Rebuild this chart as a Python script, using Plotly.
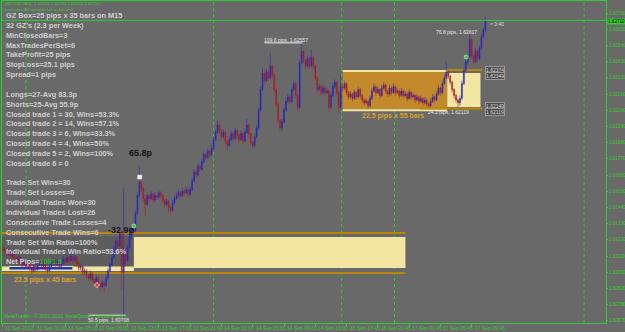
import plotly.graph_objects as go

# ---------------- data (GBPUSD, M15) ----------------
first_open = 1.6117
closes = [
 1.6116, 1.6114, 1.6112, 1.6114, 1.6111, 1.6113, 1.6110, 1.6108, 1.6110, 1.6107,
 1.6105, 1.6107, 1.6104, 1.6106, 1.6103, 1.6101, 1.6104, 1.6102, 1.6105, 1.6107,
 1.6104, 1.6106, 1.6103, 1.6101, 1.6104, 1.6106, 1.6108, 1.6105, 1.6107, 1.6104,
 1.6106, 1.6109, 1.6107, 1.6110, 1.6108, 1.6111, 1.6108, 1.6110, 1.6106, 1.6103,
 1.6104, 1.6100, 1.6101, 1.6098, 1.6096, 1.6099, 1.6095, 1.6093, 1.6096, 1.6092,
 1.6090, 1.6093, 1.6091, 1.6096, 1.6101, 1.6105, 1.6110, 1.6116, 1.6121, 1.6118,
 1.6126, 1.6100, 1.6114, 1.6108, 1.6117, 1.6124, 1.6130, 1.6128, 1.6140, 1.6152,
 1.6161, 1.6157, 1.6150, 1.6146, 1.6152, 1.6150, 1.6153, 1.6149, 1.6152, 1.6151,
 1.6154, 1.6152, 1.6149, 1.6146, 1.6148, 1.6144, 1.6142, 1.6147, 1.6150, 1.6152,
 1.6154, 1.6152, 1.6155, 1.6154, 1.6156, 1.6153, 1.6156, 1.6162, 1.6168, 1.6166,
 1.6172, 1.6170, 1.6175, 1.6180, 1.6178, 1.6182, 1.6180, 1.6184, 1.6190, 1.6195,
 1.6200, 1.6196, 1.6192, 1.6195, 1.6189, 1.6186, 1.6190, 1.6194, 1.6191, 1.6196,
 1.6193, 1.6190, 1.6194, 1.6189, 1.6195, 1.6200, 1.6194, 1.6188, 1.6186, 1.6192,
 1.6198, 1.6210, 1.6224, 1.6235, 1.6230, 1.6236, 1.6232, 1.6240, 1.6234, 1.6224,
 1.6214, 1.6203, 1.6198, 1.6202, 1.6210, 1.6216, 1.6219, 1.6216, 1.6224, 1.6228,
 1.6220, 1.6212, 1.6242, 1.6250, 1.6244, 1.6240, 1.6245, 1.6240, 1.6246, 1.6240,
 1.6232, 1.6224, 1.6226, 1.6222, 1.6225, 1.6222, 1.6223, 1.6212, 1.6220, 1.6226,
 1.6229, 1.6222, 1.6212, 1.6226, 1.6225, 1.6228, 1.6222, 1.6219, 1.6221, 1.6218,
 1.6222, 1.6219, 1.6224, 1.6220, 1.6217, 1.6215, 1.6216, 1.6213, 1.6218, 1.6223,
 1.6226, 1.6222, 1.6224, 1.6220, 1.6225, 1.6227, 1.6223, 1.6221, 1.6225, 1.6222,
 1.6226, 1.6222, 1.6223, 1.6220, 1.6223, 1.6220, 1.6221, 1.6218, 1.6222, 1.6219,
 1.6220, 1.6217, 1.6219, 1.6216, 1.6218, 1.6215, 1.6217, 1.6214, 1.6213, 1.6216,
 1.6219, 1.6217, 1.6221, 1.6225, 1.6222, 1.6228, 1.6232, 1.6236, 1.6233, 1.6229,
 1.6224, 1.6220, 1.6217, 1.6215, 1.6218, 1.6228, 1.6237, 1.6243, 1.6246, 1.6258,
 1.6247, 1.6243, 1.6250, 1.6245, 1.6252, 1.6260, 1.62645, 1.62710]
highs = [
 1.6119, 1.6117, 1.6115, 1.6116, 1.6115, 1.6115, 1.6114, 1.6111, 1.6112, 1.6111,
 1.6108, 1.6109, 1.6108, 1.6108, 1.6107, 1.6104, 1.6106, 1.6105, 1.6107, 1.6109,
 1.6108, 1.6108, 1.6107, 1.6104, 1.6106, 1.6108, 1.6110, 1.6109, 1.6109, 1.6108,
 1.6108, 1.6111, 1.6110, 1.6112, 1.6111, 1.6113, 1.6112, 1.6112, 1.6111, 1.6107,
 1.6106, 1.6105, 1.6103, 1.6102, 1.6099, 1.6101, 1.6100, 1.6096, 1.6098, 1.6097,
 1.6093, 1.6095, 1.6094, 1.6098, 1.6103, 1.6107, 1.6112, 1.6118, 1.6123, 1.6122,
 1.6128, 1.6128, 1.6157, 1.6116, 1.6119, 1.6126, 1.6132, 1.6133, 1.6142, 1.6154,
 1.6172, 1.6164, 1.6158, 1.6151, 1.6154, 1.6153, 1.6155, 1.6154, 1.6154, 1.6153,
 1.6156, 1.6155, 1.6153, 1.6150, 1.6150, 1.6149, 1.6145, 1.6149, 1.6152, 1.6154,
 1.6156, 1.6155, 1.6157, 1.6156, 1.6158, 1.6157, 1.6158, 1.6164, 1.6170, 1.6170,
 1.6174, 1.6174, 1.6177, 1.6182, 1.6181, 1.6184, 1.6183, 1.6186, 1.6192, 1.6197,
 1.6203, 1.6201, 1.6197, 1.6197, 1.6196, 1.6190, 1.6192, 1.6196, 1.6195, 1.6198,
 1.6197, 1.6194, 1.6196, 1.6195, 1.6197, 1.6204, 1.6201, 1.6195, 1.6189, 1.6194,
 1.6200, 1.6212, 1.6226, 1.6239, 1.6237, 1.6238, 1.6237, 1.6249, 1.6241, 1.6235,
 1.6225, 1.6215, 1.6204, 1.6204, 1.6212, 1.6218, 1.6221, 1.6220, 1.6226, 1.6230,
 1.6229, 1.6221, 1.6244, 1.62557, 1.6251, 1.6245, 1.6247, 1.6246, 1.6251, 1.6247,
 1.6241, 1.6233, 1.6228, 1.6227, 1.6227, 1.6226, 1.6225, 1.6224, 1.6222, 1.6228,
 1.6231, 1.6230, 1.6223, 1.6234, 1.6228, 1.6230, 1.6229, 1.6223, 1.6223, 1.6222,
 1.6224, 1.6223, 1.6226, 1.6225, 1.6221, 1.6218, 1.6218, 1.6217, 1.6220, 1.6225,
 1.6228, 1.6227, 1.6226, 1.6225, 1.6227, 1.6229, 1.6228, 1.6224, 1.6227, 1.6226,
 1.6228, 1.6227, 1.6225, 1.6224, 1.6225, 1.6224, 1.6223, 1.6222, 1.6224, 1.6223,
 1.6222, 1.6221, 1.6221, 1.6220, 1.6220, 1.6219, 1.6219, 1.6218, 1.6215, 1.6218,
 1.6221, 1.6220, 1.6223, 1.6227, 1.6226, 1.6230, 1.6234, 1.6243, 1.6237, 1.6234,
 1.6230, 1.6225, 1.6221, 1.6218, 1.6220, 1.6230, 1.6239, 1.6245, 1.6248, 1.62617,
 1.6259, 1.6248, 1.6252, 1.6251, 1.6254, 1.6262, 1.6266, 1.62733]
lows = [
 1.6114, 1.6113, 1.6110, 1.6111, 1.6109, 1.6110, 1.6108, 1.6106, 1.6107, 1.6105,
 1.6103, 1.6104, 1.6102, 1.6103, 1.6101, 1.6099, 1.6100, 1.6100, 1.6101, 1.6104,
 1.6102, 1.6103, 1.6101, 1.6099, 1.6100, 1.6103, 1.6105, 1.6103, 1.6104, 1.6102,
 1.6103, 1.6105, 1.6105, 1.6106, 1.6106, 1.6107, 1.6106, 1.6107, 1.6104, 1.6101,
 1.6101, 1.6098, 1.6098, 1.6096, 1.6094, 1.6095, 1.6093, 1.6091, 1.6092, 1.6090,
 1.6087, 1.6089, 1.6086, 1.6090, 1.6095, 1.6100, 1.6104, 1.6109, 1.6115, 1.6116,
 1.6117, 1.6088, 1.60708, 1.6104, 1.6107, 1.6116, 1.6122, 1.6126, 1.6127, 1.6139,
 1.6150, 1.6155, 1.6148, 1.6138, 1.6145, 1.6148, 1.6149, 1.6147, 1.6148, 1.6149,
 1.6150, 1.6150, 1.6147, 1.6144, 1.6145, 1.6141, 1.6140, 1.6141, 1.6146, 1.6149,
 1.6151, 1.6150, 1.6151, 1.6152, 1.6153, 1.6151, 1.6152, 1.6155, 1.6161, 1.6164,
 1.6165, 1.6168, 1.6169, 1.6174, 1.6176, 1.6177, 1.6178, 1.6179, 1.6183, 1.6189,
 1.6194, 1.6194, 1.6190, 1.6191, 1.6187, 1.6183, 1.6185, 1.6189, 1.6189, 1.6190,
 1.6191, 1.6188, 1.6189, 1.6187, 1.6188, 1.6194, 1.6192, 1.6186, 1.6184, 1.6185,
 1.6191, 1.6197, 1.6209, 1.6223, 1.6228, 1.6229, 1.6230, 1.6231, 1.6232, 1.6222,
 1.6212, 1.6201, 1.6196, 1.6196, 1.6201, 1.6209, 1.6215, 1.6214, 1.6215, 1.6223,
 1.6218, 1.6210, 1.6211, 1.6241, 1.6242, 1.6238, 1.6239, 1.6238, 1.6239, 1.6238,
 1.6230, 1.6222, 1.6223, 1.6220, 1.6221, 1.6220, 1.6221, 1.6209, 1.6211, 1.6219,
 1.6225, 1.6220, 1.6208, 1.6211, 1.6223, 1.6224, 1.6220, 1.6217, 1.6218, 1.6216,
 1.6217, 1.6217, 1.6218, 1.6218, 1.6215, 1.6213, 1.6214, 1.6211, 1.6212, 1.6217,
 1.6222, 1.6220, 1.6221, 1.6218, 1.6219, 1.6224, 1.6221, 1.6219, 1.6220, 1.6220,
 1.6221, 1.6220, 1.6221, 1.6218, 1.6219, 1.6218, 1.6219, 1.6216, 1.6217, 1.6217,
 1.6218, 1.6215, 1.6216, 1.6214, 1.6215, 1.6213, 1.6214, 1.62125, 1.62119, 1.6212,
 1.6215, 1.6215, 1.6216, 1.6220, 1.6220, 1.6221, 1.6227, 1.6231, 1.6231, 1.6227,
 1.6222, 1.6218, 1.6215, 1.6212, 1.6213, 1.6217, 1.6227, 1.6236, 1.6241, 1.6245,
 1.6245, 1.6241, 1.6242, 1.6243, 1.6244, 1.6251, 1.6259, 1.6263]

bars = list(range(len(closes)))
opens = [first_open] + closes[:-1]

price_ticks = [1.60670, 1.60780, 1.60890, 1.61000, 1.61110, 1.61220, 1.61330,
               1.61440, 1.61550, 1.61660, 1.61770, 1.61880, 1.61990, 1.62100,
               1.62210, 1.62320, 1.62430, 1.62540, 1.62650, 1.62760]
time_tick_bars = [0, 16, 32, 48, 64, 80, 96, 112, 128, 144, 160, 176, 192, 208, 224, 240]
time_tick_text = ["12 Sep 2012", "13 Sep 01:00", "13 Sep 05:00", "13 Sep 09:00",
                  "13 Sep 13:00", "13 Sep 17:00", "13 Sep 21:00", "14 Sep 01:00",
                  "14 Sep 05:00", "14 Sep 09:00", "14 Sep 13:00", "16 Sep 17:45",
                  "16 Sep 21:45", "17 Sep 01:45", "17 Sep 05:45", "17 Sep 09:45"]
day_separator_bars = [12, 108, 173.5, 200.5, 297.5]
bid_price = 1.62710

# current GZ box and breakout extension
gz_start, gz_end, ext_end = 174, 227.5, 244.5
gz_top, gz_bottom = 1.62363, 1.62105
ext_top, ext_bottom = 1.62353, 1.62122
# previous box (bottom left)
old_left, old_mid, old_right = -0.5, 67.2, 206.1
old_top, old_bottom = 1.61239, 1.61029
old_line_top, old_line_bottom = 1.61266, 1.60995
# swing markers
swing_low_price, swing_high_price = 1.60708, 1.62557
# trade signal arrows
signal_bars = [48.3, 67.2, 70.2, 237.2]
signal_prices = [1.60913, 1.61314, 1.61646, 1.62461]
signal_colors = ["#e02020", "#2fd02f", "#f0f0f0", "#2fd02f"]
signal_symbols = ["cross", "circle", "square", "circle"]

stats_lines = [
    "GZ Box=25 pips x 35 bars on M15", "32 GZ's (2.3 per Week)", "MinClosedBars=3",
    "MaxTradesPerSet=6", "TakeProfit=25 pips", "StopLoss=25.1 pips", "Spread=1 pips", "",
    "Longs=27-Avg 83.3p", "Shorts=25-Avg 55.9p", "Closed trade 1 = 30, Wins=53.3%",
    "Closed trade 2 = 14, Wins=57.1%", "Closed trade 3 = 6, Wins=33.3%",
    "Closed trade 4 = 4, Wins=50%", "Closed trade 5 = 2, Wins=100%", "Closed trade 6 = 0", "",
    "Trade Set Wins=30", "Trade Set Losses=0", "Individual Trades Won=30",
    "Individual Trades Lost=26", "Consecutive Trade Losses=4", "Consecutive Trade Wins=6",
    "Trade Set Win Ratio=100%", "Individual Trades Win Ratio=53.6%",
    "Net Pips=<span style='color:#2fb52f'>1091.8</span>"]

# ---------------- style ----------------
BG = "#696969"
GREEN = "#32cd32"
BLUE = "#2a2ab8"
RED = "#a82020"
YELLOW = "#f3e6a2"
GOLD = "#c28a2a"
GOLDLINE = "#b8860b"
TXT = "#cfcfcf"

X0, X1 = -0.25, 308.7
Y0, Y1 = 1.606551, 1.628415

def px(xp):
    return (xp - 2) / 604.0

def py(yp):
    return (323 - yp) / 322.0

fig = go.Figure()
fig.add_trace(go.Candlestick(
    x=bars, open=opens, high=highs, low=lows, close=closes,
    increasing=dict(line=dict(color=BLUE, width=0.6), fillcolor=BLUE),
    decreasing=dict(line=dict(color=RED, width=0.6), fillcolor=RED),
    whiskerwidth=0, hoverinfo="skip", showlegend=False))

fig.add_trace(go.Scatter(
    x=signal_bars, y=signal_prices, mode="markers", hoverinfo="skip", showlegend=False,
    marker=dict(size=4, color=signal_colors, symbol=signal_symbols,
                line=dict(color="#ffffff", width=0.5))))

shapes = []
for b in day_separator_bars:
    shapes.append(dict(type="line", xref="x", yref="paper", x0=b, x1=b, y0=0, y1=1,
                       line=dict(color=GREEN, width=1, dash="dot"), layer="below"))
# previous box
shapes += [
    dict(type="rect", xref="x", yref="y", x0=old_left, x1=old_mid, y0=old_bottom + 0.0001, y1=old_top + 0.00005,
         fillcolor="#5d5d5d", line=dict(width=0), layer="below"),
    dict(type="rect", xref="x", yref="y", x0=old_mid, x1=old_right, y0=old_bottom, y1=old_top,
         fillcolor=YELLOW, line=dict(width=0), layer="below"),
    dict(type="rect", xref="x", yref="y", x0=old_left, x1=old_mid, y0=old_bottom - 0.0002, y1=old_bottom + 0.0001,
         fillcolor=YELLOW, line=dict(width=0), layer="below"),
    dict(type="rect", xref="x", yref="y", x0=3.3, x1=36, y0=old_bottom - 0.00014, y1=old_bottom + 0.0001,
         fillcolor="#2035c8", line=dict(color=YELLOW, width=1), layer="below"),
    dict(type="line", xref="x", yref="y", x0=old_left, x1=old_right, y0=old_line_top, y1=old_line_top,
         line=dict(color=GOLDLINE, width=2), layer="below"),
    dict(type="line", xref="x", yref="y", x0=old_left, x1=old_right, y0=old_line_bottom, y1=old_line_bottom,
         line=dict(color=GOLDLINE, width=2), layer="below"),
]
# current GZ box
shapes += [
    dict(type="rect", xref="x", yref="y", x0=gz_start, x1=gz_end, y0=gz_bottom, y1=gz_top,
         fillcolor=GOLD, line=dict(width=0), layer="below"),
    dict(type="rect", xref="x", yref="y", x0=gz_end, x1=ext_end, y0=ext_bottom, y1=ext_top,
         fillcolor=YELLOW, line=dict(width=0), layer="below"),
    dict(type="line", xref="x", yref="y", x0=gz_start, x1=gz_end, y0=gz_top + 0.00003, y1=gz_top + 0.00003,
         line=dict(color="#f3e6a2", width=2), layer="below"),
    dict(type="line", xref="x", yref="y", x0=gz_start, x1=gz_end, y0=gz_bottom - 0.00005, y1=gz_bottom - 0.00005,
         line=dict(color="#f3e6a2", width=2), layer="below"),
    dict(type="line", xref="x", yref="y", x0=gz_end, x1=ext_end + 1, y0=gz_top + 0.0001, y1=gz_top + 0.0001,
         line=dict(color=GOLDLINE, width=2), layer="below"),
    dict(type="line", xref="x", yref="y", x0=213.7, x1=ext_end + 1, y0=ext_bottom - 0.0001, y1=ext_bottom - 0.0001,
         line=dict(color=GOLDLINE, width=2), layer="below"),
]
# swing high/low markers and bid line
shapes += [
    dict(type="line", xref="x", yref="y", x0=44, x1=63, y0=swing_low_price, y1=swing_low_price,
         line=dict(color="#eeeeee", width=1)),
    dict(type="line", xref="x", yref="y", x0=134, x1=153.5, y0=swing_high_price, y1=swing_high_price,
         line=dict(color="#eeeeee", width=1)),
    dict(type="line", xref="paper", yref="y", x0=0, x1=1, y0=bid_price, y1=bid_price,
         line=dict(color=GREEN, width=1)),
]

ann = []
def txt(x, y, s, size=8, color=TXT, bold=True, xanchor="left", **kw):
    ann.append(dict(x=px(x), y=py(y), xref="paper", yref="paper", text=("<b>%s</b>" % s) if bold else s,
                    showarrow=False, xanchor=xanchor, yanchor="middle",
                    font=dict(family="Arial", size=size, color=color), **kw))

for k, line in enumerate(stats_lines):
    if line:
        txt(5, 15.5 + 9.85 * k, line, size=7.3, borderpad=0)

txt(3, 3.0, "GBPUSD,M15  1.62645 1.62733 1.62630 1.62710", size=4.3, color=GREEN, bold=False, borderpad=0)
txt(3, 9.2, "3 minutes 40 seconds left to bar end", size=4.3, color=GREEN, bold=False, borderpad=0)
txt(127, 153, "65.8p", size=9, color="#151515")
txt(106, 230, "-32.9p", size=9, color="#151515")
txt(262, 40, "109.6 pips, 1.62557", size=5, color="#e8e8e8", bold=False)
txt(434, 32, "76.8 pips, 1.62617", size=5, color="#e8e8e8", bold=False)
txt(87, 320, "50.5 pips, 1.60708", size=5, color="#e8e8e8", bold=False, borderpad=0)
txt(426, 112, "24.2 pips, 1.62119", size=5, color="#e8e8e8", bold=False)
txt(360, 116, "22.5 pips x 55 bars", size=7, color="#d9a32a")
txt(12, 280, "22.5 pips x 45 bars", size=7, color="#d9a32a")
txt(3, 316, "MetaTrader - \u00a9 2001-2012, MetaQuotes Software Corp.", size=5, color=GREEN, bold=False, borderpad=0)
txt(488, 24, "< 0:40", size=5, color="#dddddd", bold=False)
for yy, s in [(70, "1.62374"), (76, "1.62349"), (106, "1.62149"), (112, "1.62119")]:
    txt(485, yy, s, size=5, color="#dddddd", bold=False, bgcolor="#4a4a4a",
        bordercolor="#9a9a9a", borderwidth=1, borderpad=0)
txt(607, 21, "1.62710", size=4.6, color="#000000", bold=False, bgcolor=GREEN, borderpad=0)

# time axis labels, drawn to the right of each tick like the terminal does
for b, s in zip(time_tick_bars, time_tick_text):
    ann.append(dict(x=b, y=py(328), xref="x", yref="paper", text=s, showarrow=False,
                    xanchor="left", yanchor="middle", xshift=1,
                    font=dict(family="Arial", size=5, color=GREEN)))

fig.update_layout(
    width=625, height=332, autosize=False,
    margin=dict(l=2, r=19, t=1, b=9, pad=0),
    paper_bgcolor=BG, plot_bgcolor=BG, showlegend=False,
    shapes=shapes, annotations=ann,
    xaxis=dict(range=[X0, X1], showgrid=False, zeroline=False, automargin=False,
               rangeslider=dict(visible=False), tickmode="array",
               tickvals=time_tick_bars, showticklabels=False,
               ticks="outside", ticklen=3, tickcolor=GREEN, tickwidth=1,
               showline=True, linecolor=GREEN, linewidth=1, mirror=True),
    yaxis=dict(range=[Y0, Y1], side="right", showgrid=False, zeroline=False, automargin=False,
               tickmode="array", tickvals=price_ticks,
               ticktext=["%.5f" % v for v in price_ticks],
               ticks="outside", ticklen=1, tickcolor=GREEN, tickwidth=1,
               tickfont=dict(family="Arial", size=4.6, color=GREEN),
               showline=True, linecolor=GREEN, linewidth=1, mirror=True),
)

fig.write_html("out.html")
